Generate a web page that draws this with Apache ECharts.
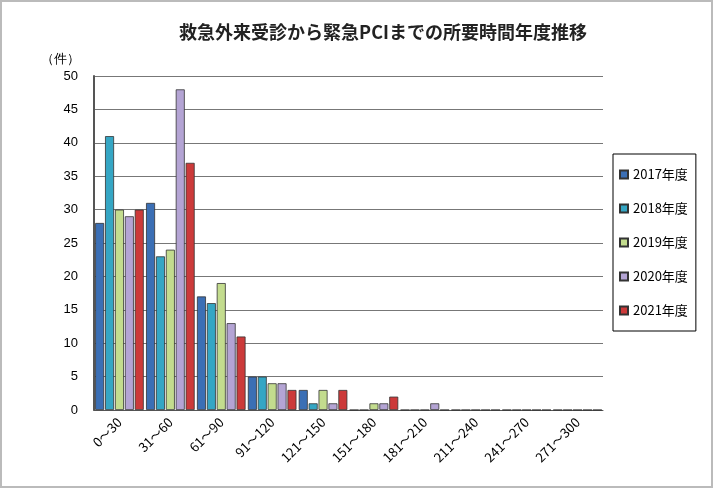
<!DOCTYPE html>
<html lang="ja">
<head>
<meta charset="UTF-8">
<title>所要時間年度推移</title>
<script src="https://cdn.jsdelivr.net/npm/echarts@6/dist/echarts.min.js"></script>
<style>
  body { margin: 0; }
  #app { width: 713px; height: 488px; box-sizing: border-box; border: 2px solid #bbb; }
</style>
</head>
<body>
<div id="app"></div>
<script>
    var categories = ['0～30', '31～60', '61～90', '91～120', '121～150', '151～180', '181～210', '211～240', '241～270', '271～300'];
    var years = ['2017年度', '2018年度', '2019年度', '2020年度', '2021年度'];
    var colors = ['#3b6fb5', '#35a6c4', '#c3dc8e', '#b4a4d4', '#cc3a3a'];
    var y2017 = [28, 31, 17, 5, 3, 0, 0, 0, 0, 0];
    var y2018 = [41, 23, 16, 5, 1, 0, 0, 0, 0, 0];
    var y2019 = [30, 24, 19, 4, 3, 1, 0, 0, 0, 0];
    var y2020 = [29, 48, 13, 4, 1, 1, 1, 0, 0, 0];
    var y2021 = [30, 37, 11, 3, 3, 2, 0, 0, 0, 0];
    var values = [y2017, y2018, y2019, y2020, y2021];

    var myChart = echarts.init(document.getElementById('app'));
    var series = [];
    for (var i = 0; i < years.length; i++) {
        series.push({
            name: years[i],
            type: 'bar',
            data: values[i],
            barWidth: 9,
            barGap: '10%',
            itemStyle: { color: colors[i], borderColor: '#333', borderWidth: 0.8 }
        });
    }
    var option = {
        backgroundColor: '#fff',
        title: {
            text: '救急外来受診から緊急PCIまでの所要時間年度推移',
            left: 376, top: 16, textAlign: 'center',
            textStyle: { fontSize: 18, fontWeight: 'bold', color: '#222', fontFamily: 'Noto Sans CJK JP' }
        },
        legend: {
            orient: 'vertical',
            left: 611, top: 152,
            itemWidth: 8, itemHeight: 8, itemGap: 21,
            padding: [14, 8, 14, 6],
            borderColor: '#000', borderWidth: 1,
            icon: 'rect',
            textStyle: { fontSize: 13, color: '#000', fontFamily: 'Noto Sans CJK JP' }
        },
        grid: { left: 92, right: 108, top: 74, bottom: 76 },
        xAxis: {
            type: 'category',
            data: categories,
            axisLine: { lineStyle: { color: '#555' } },
            axisTick: { show: false },
            axisLabel: { rotate: 45, fontSize: 13, color: '#000', margin: 10, interval: 0, fontFamily: 'Noto Sans CJK JP' }
        },
        yAxis: {
            type: 'value',
            name: '（件）',
            nameLocation: 'end',
            nameGap: 10,
            nameTextStyle: { align: 'right', color: '#000', fontSize: 13, padding: [0, 14, 0, 0] },
            min: 0, max: 50, interval: 5,
            axisLine: { show: true, lineStyle: { color: '#555', width: 2 } },
            axisLabel: { fontSize: 13, color: '#000', margin: 16 },
            splitLine: { lineStyle: { color: '#777' } }
        },
        series: series
    };
    myChart.setOption(option);
</script>
</body>
</html>
